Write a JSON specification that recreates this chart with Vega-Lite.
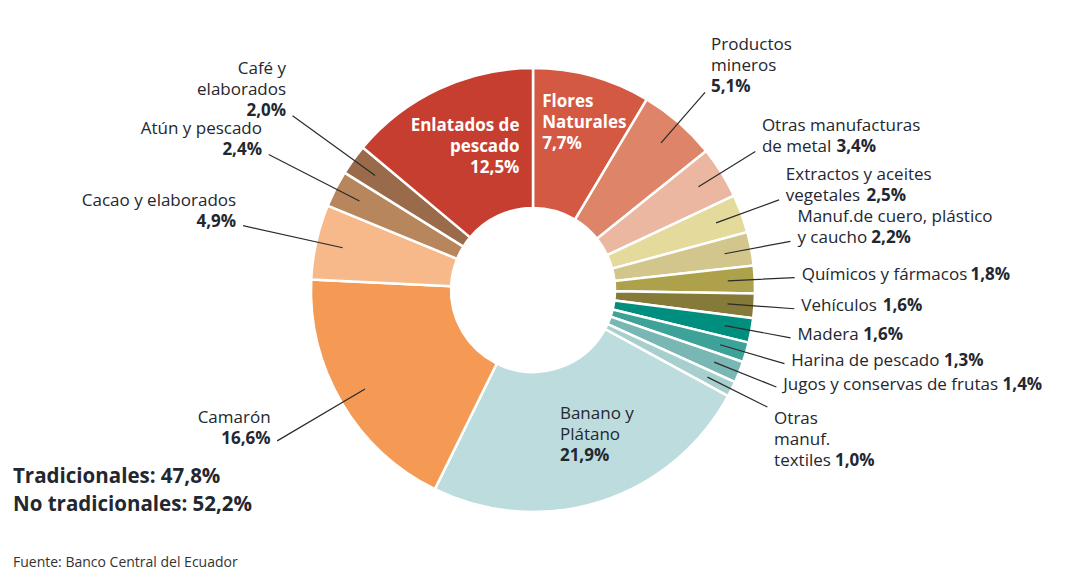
{
  "$schema": "https://vega.github.io/schema/vega-lite/v6.json",
  "width": 1066,
  "height": 562,
  "padding": {"left": 0, "top": 9, "right": 10, "bottom": 0},
  "autosize": "none",
  "background": "white",
  "config": {"view": {"stroke": null}, "font": "Open Sans"},
  "title": {
    "text": ["Tradicionales: 47,8%", "No tradicionales: 52,2%"],
    "orient": "bottom",
    "anchor": "start",
    "frame": "group",
    "dx": 13,
    "offset": -104,
    "fontSize": 20.5,
    "fontWeight": "bold",
    "font": "Open Sans",
    "color": "#23272f",
    "lineHeight": 28,
    "subtitle": "Fuente: Banco Central del Ecuador",
    "subtitleFont": "Open Sans",
    "subtitleFontSize": 14,
    "subtitleColor": "#333333",
    "subtitlePadding": 40
  },
  "data": {
    "values": [
      {"order": 1, "cat": "Flores Naturales", "label": "Flores\nNaturales\n", "pct": "7,7%", "value": 7.7, "tipo": "No tradicional"},
      {"order": 2, "cat": "Productos mineros", "label": "Productos\nmineros\n", "pct": "5,1%", "value": 5.1, "tipo": "No tradicional"},
      {"order": 3, "cat": "Otras manufacturas de metal", "label": "Otras manufacturas\nde metal", "pct": "3,4%", "value": 3.4, "tipo": "No tradicional"},
      {"order": 4, "cat": "Extractos y aceites vegetales", "label": "Extractos y aceites\nvegetales", "pct": "2,5%", "value": 2.5, "tipo": "No tradicional"},
      {"order": 5, "cat": "Manuf.de cuero, plástico y caucho", "label": "Manuf.de cuero, plástico\ny caucho", "pct": "2,2%", "value": 2.2, "tipo": "No tradicional"},
      {"order": 6, "cat": "Químicos y fármacos", "label": "Químicos y fármacos", "pct": "1,8%", "value": 1.8, "tipo": "No tradicional"},
      {"order": 7, "cat": "Vehículos", "label": "Vehículos", "pct": "1,6%", "value": 1.6, "tipo": "No tradicional"},
      {"order": 8, "cat": "Madera", "label": "Madera", "pct": "1,6%", "value": 1.6, "tipo": "No tradicional"},
      {"order": 9, "cat": "Harina de pescado", "label": "Harina de pescado", "pct": "1,3%", "value": 1.3, "tipo": "No tradicional"},
      {"order": 10, "cat": "Jugos y conservas de frutas", "label": "Jugos y conservas de frutas", "pct": "1,4%", "value": 1.4, "tipo": "No tradicional"},
      {"order": 11, "cat": "Otras manuf. textiles", "label": "Otras\nmanuf.\ntextiles", "pct": "1,0%", "value": 1.0, "tipo": "No tradicional"},
      {"order": 12, "cat": "Banano y Plátano", "label": "Banano y\nPlátano\n", "pct": "21,9%", "value": 21.9, "tipo": "Tradicional"},
      {"order": 13, "cat": "Camarón", "label": "Camarón\n", "pct": "16,6%", "value": 16.6, "tipo": "Tradicional"},
      {"order": 14, "cat": "Cacao y elaborados", "label": "Cacao y elaborados\n", "pct": "4,9%", "value": 4.9, "tipo": "Tradicional"},
      {"order": 15, "cat": "Atún y pescado", "label": "Atún y pescado\n", "pct": "2,4%", "value": 2.4, "tipo": "Tradicional"},
      {"order": 16, "cat": "Café y elaborados", "label": "Café y\nelaborados\n", "pct": "2,0%", "value": 2.0, "tipo": "Tradicional"},
      {"order": 17, "cat": "Enlatados de pescado", "label": "Enlatados de\npescado\n", "pct": "12,5%", "value": 12.5, "tipo": "No tradicional"}
    ]
  },
  "transform": [
    {"stack": "value", "groupby": [], "offset": "normalize", "sort": [{"field": "order", "order": "ascending"}], "as": ["v0", "v1"]},
    {"calculate": "(datum.v0 + datum.v1) / 2", "as": "mid"},
    {"calculate": "length(split(datum.label, '\\n'))", "as": "nl"},
    {"calculate": "trim(datum.label)", "as": "name"},
    {"calculate": "datum.label + datum.pct", "as": "full"},
    {"calculate": "peek(split(datum.label, '\\n'))", "as": "last"},
    {"calculate": "length(datum.last) - length(replace(datum.last, regexp('[ijlí,.]', 'g'), ''))", "as": "n1"},
    {"calculate": "length(datum.last) - length(replace(datum.last, regexp('[ ]', 'g'), ''))", "as": "nsp"},
    {"calculate": "length(datum.last) - length(replace(datum.last, regexp('[ftJ:]', 'g'), ''))", "as": "n2"},
    {"calculate": "length(datum.last) - length(replace(datum.last, regexp('[r]', 'g'), ''))", "as": "nr"},
    {"calculate": "length(datum.last) - length(replace(datum.last, regexp('[s]', 'g'), ''))", "as": "nss"},
    {"calculate": "length(datum.last) - length(replace(datum.last, regexp('[cvyzxk]', 'g'), ''))", "as": "ns"},
    {"calculate": "length(datum.last) - length(replace(datum.last, regexp('[mw]', 'g'), ''))", "as": "nw"},
    {"calculate": "length(datum.last) - length(replace(datum.last, regexp('[MW]', 'g'), ''))", "as": "nW"},
    {"calculate": "length(datum.last) - length(replace(datum.last, regexp('[A-IK-LN-VX-Z]', 'g'), ''))", "as": "nc"},
    {"calculate": "length(datum.last) == 0 ? 0 : 17 * (0.25 * datum.n1 + 0.26 * datum.nsp + 0.34 * datum.n2 + 0.41 * datum.nr + 0.46 * datum.nss + 0.49 * datum.ns + 0.92 * datum.nw + 0.84 * datum.nW + 0.72 * datum.nc + 0.585 * (length(datum.last) - datum.n1 - datum.nsp - datum.n2 - datum.nr - datum.nss - datum.ns - datum.nw - datum.nW - datum.nc) + 0.28)", "as": "lastw"}
  ],
  "layer": [
    {
      "mark": {"type": "arc", "innerRadius": 82, "outerRadius": 222, "stroke": "white", "strokeWidth": 2.5},
      "encoding": {
        "theta": {"field": "v0", "type": "quantitative", "scale": {"domain": [0, 1], "zero": true, "nice": false}},
        "theta2": {"field": "v1"},
        "color": {
          "field": "cat", "type": "nominal", "legend": null,
          "scale": {
            "domain": ["Flores Naturales", "Productos mineros", "Otras manufacturas de metal", "Extractos y aceites vegetales", "Manuf.de cuero, plástico y caucho", "Químicos y fármacos", "Vehículos", "Madera", "Harina de pescado", "Jugos y conservas de frutas", "Otras manuf. textiles", "Banano y Plátano", "Camarón", "Cacao y elaborados", "Atún y pescado", "Café y elaborados", "Enlatados de pescado"],
            "range": ["#d45943", "#dd8469", "#ebb7a0", "#e3da9b", "#d2c68d", "#ada14c", "#857a37", "#008e7f", "#3da298", "#79b7b4", "#a6cfcd", "#bddcdd", "#f59a55", "#f7b98a", "#b8865c", "#9a6b4b", "#c63e2f"]
          }
        }
      }
    },
    {
      "transform": [{"filter": "datum.tipo == 'No tradicional' && datum.cat != 'Flores Naturales' && datum.cat != 'Enlatados de pescado'"}],
      "mark": {"type": "arc", "innerRadius": 195, "outerRadius": 262, "stroke": "#2b2b2b", "strokeWidth": 1.2, "fillOpacity": 0},
      "encoding": {
        "theta": {"field": "mid", "type": "quantitative", "stack": null, "scale": {"domain": [0, 1], "zero": true, "nice": false}},
        "theta2": {"field": "mid"}
      }
    },
    {
      "transform": [{"filter": "datum.tipo == 'Tradicional' && datum.cat != 'Banano y Plátano'"}],
      "mark": {"type": "arc", "innerRadius": 195, "outerRadius": 297, "stroke": "#2b2b2b", "strokeWidth": 1.2, "fillOpacity": 0},
      "encoding": {
        "theta": {"field": "mid", "type": "quantitative", "stack": null},
        "theta2": {"field": "mid"}
      }
    },
    {
      "transform": [{"filter": "datum.tipo == 'No tradicional' && datum.cat != 'Flores Naturales' && datum.cat != 'Enlatados de pescado'"}],
      "mark": {"type": "text", "radius": 265, "align": "left", "baseline": "bottom", "dx": 4, "dy": {"expr": "datum.mid > 0.32 ? 20 : 6 - (datum.nl - 1) * 21"}, "fontSize": 17, "lineBreak": "\n", "lineHeight": 21, "color": "#23272f"},
      "encoding": {
        "theta": {"field": "mid", "type": "quantitative", "stack": null},
        "text": {"field": "name"}
      }
    },
    {
      "transform": [{"filter": "datum.tipo == 'No tradicional' && datum.cat != 'Flores Naturales' && datum.cat != 'Enlatados de pescado'"}],
      "mark": {"type": "text", "radius": 265, "align": "left", "baseline": "bottom", "dx": {"expr": "4 + datum.lastw"}, "dy": {"expr": "datum.mid > 0.32 ? 20 + (datum.nl - 1) * 21 : 6"}, "fontSize": 17, "fontWeight": "bold", "color": "#23272f"},
      "encoding": {
        "theta": {"field": "mid", "type": "quantitative", "stack": null},
        "text": {"field": "pct"}
      }
    },
    {
      "transform": [{"filter": "datum.tipo == 'Tradicional' && datum.cat != 'Banano y Plátano'"}],
      "mark": {"type": "text", "radius": 300, "align": "right", "baseline": "bottom", "dx": -4, "dy": {"expr": "6 - (datum.nl - 1) * 21"}, "fontSize": 17, "lineBreak": "\n", "lineHeight": 21, "color": "#23272f"},
      "encoding": {
        "theta": {"field": "mid", "type": "quantitative", "stack": null},
        "text": {"field": "name"}
      }
    },
    {
      "transform": [{"filter": "datum.tipo == 'Tradicional' && datum.cat != 'Banano y Plátano'"}],
      "mark": {"type": "text", "radius": 300, "align": "right", "baseline": "bottom", "dx": -4, "dy": 6, "fontSize": 17, "fontWeight": "bold", "color": "#23272f"},
      "encoding": {
        "theta": {"field": "mid", "type": "quantitative", "stack": null},
        "text": {"field": "pct"}
      }
    },
    {
      "transform": [{"filter": "datum.cat == 'Enlatados de pescado'"}],
      "mark": {"type": "text", "radius": 155, "align": "right", "baseline": "bottom", "dx": 52, "dy": {"expr": "27 - (datum.nl - 1) * 21"}, "fontSize": 17, "fontWeight": "bold", "lineBreak": "\n", "lineHeight": 21, "color": "white"},
      "encoding": {
        "theta": {"field": "mid", "type": "quantitative", "stack": null},
        "text": {"field": "full"}
      }
    },
    {
      "transform": [{"filter": "datum.cat == 'Flores Naturales'"}],
      "mark": {"type": "text", "radius": 170, "align": "left", "baseline": "bottom", "dx": -36, "dy": {"expr": "27 - (datum.nl - 1) * 21"}, "fontSize": 17, "fontWeight": "bold", "lineBreak": "\n", "lineHeight": 21, "color": "white"},
      "encoding": {
        "theta": {"field": "mid", "type": "quantitative", "stack": null},
        "text": {"field": "full"}
      }
    },
    {
      "transform": [{"filter": "datum.cat == 'Banano y Plátano'"}],
      "mark": {"type": "text", "radius": 155, "align": "left", "baseline": "bottom", "dx": -20, "dy": {"expr": "27 - (datum.nl - 1) * 21"}, "fontSize": 17, "lineBreak": "\n", "lineHeight": 21, "color": "#23272f"},
      "encoding": {
        "theta": {"field": "mid", "type": "quantitative", "stack": null},
        "text": {"field": "name"}
      }
    },
    {
      "transform": [{"filter": "datum.cat == 'Banano y Plátano'"}],
      "mark": {"type": "text", "radius": 155, "align": "left", "baseline": "bottom", "dx": -20, "dy": 27, "fontSize": 17, "fontWeight": "bold", "color": "#23272f"},
      "encoding": {
        "theta": {"field": "mid", "type": "quantitative", "stack": null},
        "text": {"field": "pct"}
      }
    }
  ]
}
